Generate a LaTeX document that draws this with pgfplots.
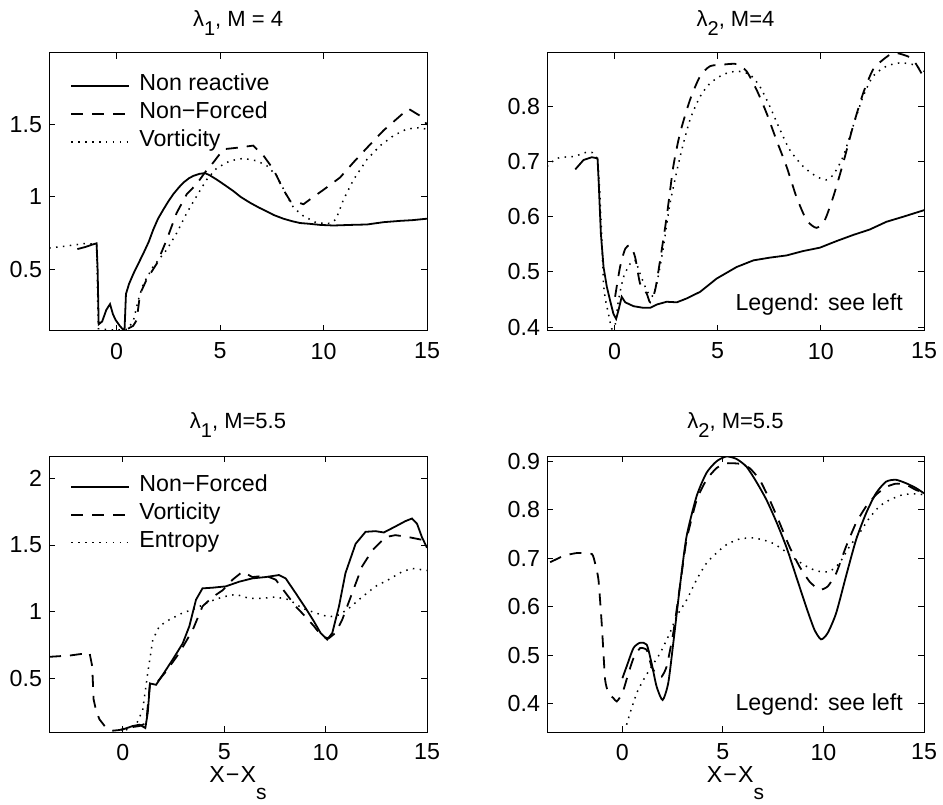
\documentclass[border=0pt]{standalone}
\usepackage{fontspec}
\setmainfont{Liberation Sans}
\usepackage{pgfplots}
\pgfplotsset{compat=1.18}
\newcommand{\fsz}{\fontsize{11.6}{13.5}\selectfont}
\pgfplotsset{
  every axis/.append style={
    scale only axis,
    axis line style={line width=0.5pt},
    tick style={line width=0.5pt, black},
    major tick length=3pt,
    tick align=inside,
    ticklabel style={font=\fsz},
    xticklabel style={yshift=-2.4pt},
    /pgf/number format/assume math mode=true,
    xtick={0,5,10,15},
    xmax=15,
    title style={at={(0.5,1)}, anchor=base, font=\fontsize{11}{13}\selectfont},
    legend cell align=left,
    legend image code/.code={\draw[#1] (0pt,0pt) -- (29pt,0pt); \path (33.5pt,0pt);},
    legend style={draw=none, fill=none, font=\fsz,
      inner sep=0pt, row sep=3pt,
      nodes={inner sep=0pt, text height=8pt, text depth=3pt}},
  },
  mysolid/.style={black, line width=0.9pt},
  mydash/.style={black, line width=0.9pt, dash pattern=on 6pt off 4.5pt},
  mydot/.style={black, line width=0.75pt, dash pattern=on 0.75pt off 2.7pt},
}
\newcommand{\xlab}{X\kern0.05em−\kern0.05emX\raisebox{-8.5pt}{\fontsize{10.5}{12}\selectfont s}}
\newcommand{\lsub}[1]{\raisebox{-4.5pt}{\fontsize{10}{12}\selectfont #1}}
\begin{document}
\begin{tikzpicture}
\path[use as bounding box] (0,0) rectangle (471.5pt,402pt);
% ---------------- Panel 1 ----------------
\begin{axis}[at={(24.5pt,236.5pt)}, anchor=south west, width=189pt, height=139pt,
  xmin=-3.27, ymin=0.074, ymax=1.995, ytick={0.5,1,1.5},
  title={λ\lsub{1}, M = 4}, title style={yshift=7pt},
  legend style={at={(0.056,0.923)}, anchor=north west}]
\addplot[mysolid] coordinates {(-1.9,0.64) (-1.5,0.655) (-1.2,0.67) (-0.97,0.68) (-0.92,0.5) (-0.87,0.12) (-0.7,0.14) (-0.5,0.22) (-0.32,0.26) (-0.18,0.19) (-0.05,0.15) (0.15,0.11) (0.3,0.085) (0.38,0.08) (0.45,0.33) (0.6,0.4) (0.81,0.47) (1.05,0.54) (1.29,0.61) (1.55,0.69) (1.77,0.775) (2.0,0.85) (2.26,0.914) (2.5,0.97) (2.74,1.02) (3.0,1.065) (3.23,1.10) (3.5,1.13) (3.71,1.146) (4.0,1.16) (4.27,1.165) (4.5,1.15) (4.84,1.12) (5.2,1.085) (5.65,1.04) (6.0,1.0) (6.45,0.96) (6.9,0.925) (7.26,0.90) (7.6,0.875) (8.06,0.85) (8.5,0.832) (8.87,0.82) (9.3,0.815) (9.84,0.807) (10.48,0.803) (11.29,0.807) (12.1,0.81) (12.9,0.826) (13.7,0.835) (14.3,0.84) (15,0.85)};
\addlegendentry{Non reactive}
\addplot[mydash] coordinates {(0.55,0.09) (0.8,0.11) (0.97,0.15) (1.13,0.33) (1.45,0.43) (1.94,0.54) (2.42,0.705) (2.9,0.89) (3.39,1.02) (3.87,1.09) (4.27,1.17) (4.68,1.24) (5.16,1.33) (5.8,1.34) (6.6,1.355) (7.1,1.285) (7.58,1.19) (8.06,1.05) (8.4,0.97) (8.7,0.965) (9.03,0.95) (9.35,0.984) (10.0,1.05) (10.8,1.135) (11.45,1.24) (12.1,1.34) (12.9,1.46) (13.7,1.56) (14.1,1.61) (14.68,1.56) (15,1.5)};
\addlegendentry{Non−Forced}
\addplot[mydot] coordinates {(-3.26,0.647) (-2.5,0.66) (-1.45,0.68) (-0.97,0.67) (-0.92,0.3) (-0.88,0.09) (-0.5,0.085) (0,0.08) (0.5,0.085) (0.8,0.14) (1.05,0.29) (1.29,0.40) (1.77,0.52) (2.42,0.636) (2.9,0.75) (3.39,0.89) (3.87,1.007) (4.35,1.12) (4.84,1.2) (5.48,1.25) (6.13,1.267) (6.77,1.25) (7.26,1.216) (7.74,1.146) (8.23,1.007) (8.55,0.926) (9.03,0.868) (9.68,0.82) (10.3,0.817) (10.6,0.845) (10.97,0.984) (11.45,1.12) (12.1,1.26) (12.74,1.355) (13.39,1.425) (14.03,1.47) (14.68,1.48) (15,1.466)};
\addlegendentry{Vorticity}
\end{axis}
% ---------------- Panel 2 ----------------
\begin{axis}[at={(273.5pt,236.5pt)}, anchor=south west, width=188.5pt, height=139pt,
  xmin=-3.27, ymin=0.393, ymax=0.897, ytick={0.4,0.5,0.6,0.7,0.8},
  title={λ\lsub{2}, M=4}, title style={yshift=7pt}]
\addplot[mysolid] coordinates {(-1.9,0.686) (-1.5,0.703) (-1.1,0.708) (-0.82,0.706) (-0.77,0.667) (-0.66,0.57) (-0.53,0.509) (-0.37,0.473) (-0.21,0.448) (-0.05,0.424) (0.08,0.415) (0.19,0.43) (0.35,0.455) (0.52,0.445) (0.92,0.438) (1.4,0.435) (1.73,0.435) (2.05,0.441) (2.53,0.446) (3.02,0.445) (3.5,0.452) (4.15,0.464) (4.95,0.488) (5.92,0.509) (6.73,0.521) (7.53,0.526) (8.34,0.530) (9.15,0.538) (9.95,0.544) (10.76,0.556) (11.56,0.567) (12.37,0.577) (13.18,0.591) (13.98,0.6) (15,0.612)};
\addplot[mydash, smooth, tension=0.4] coordinates {(0.03,0.455) (0.27,0.509) (0.52,0.542) (0.76,0.548) (1.0,0.527) (1.24,0.479) (1.56,0.461) (1.73,0.445) (1.97,0.467) (2.21,0.521) (2.53,0.6) (2.85,0.691) (3.18,0.752) (3.66,0.812) (4.15,0.855) (4.63,0.873) (5.27,0.876) (5.92,0.877) (6.4,0.864) (6.89,0.83) (7.37,0.788) (7.85,0.739) (8.34,0.691) (8.82,0.636) (9.31,0.594) (9.79,0.58) (10.19,0.594) (10.6,0.636) (11.08,0.697) (11.56,0.764) (12.05,0.824) (12.53,0.867) (13.02,0.885) (13.5,0.897) (13.98,0.894) (14.47,0.885) (15,0.852)};
\addplot[mydot, smooth, tension=0.4] coordinates {(-3.27,0.691) (-2.79,0.706) (-2.0,0.709) (-0.85,0.705) (-0.53,0.479) (-0.29,0.424) (-0.13,0.397) (0.03,0.403) (0.19,0.448) (0.44,0.491) (0.76,0.515) (1.0,0.521) (1.24,0.497) (1.56,0.467) (1.81,0.455) (2.05,0.479) (2.37,0.545) (2.69,0.624) (3.18,0.709) (3.66,0.776) (4.15,0.818) (4.63,0.842) (5.27,0.858) (5.92,0.864) (6.56,0.858) (7.05,0.836) (7.53,0.8) (8.02,0.758) (8.5,0.721) (9.15,0.691) (9.79,0.673) (10.27,0.667) (10.6,0.676) (11.08,0.709) (11.56,0.764) (12.05,0.818) (12.53,0.855) (13.18,0.873) (13.82,0.879) (14.47,0.876) (15,0.864)};
\node[font=\fsz, anchor=center] at (rel axis cs:0.722,0.096) {Legend: see left};
\end{axis}
% ---------------- Panel 3 ----------------
\begin{axis}[at={(24.5pt,36pt)}, anchor=south west, width=189pt, height=138pt,
  xmin=-3.64, ymin=0.095, ymax=2.17, ytick={0.5,1,1.5,2},
  title={λ\lsub{1}, M=5.5}, title style={yshift=8pt},
  xlabel={\xlab}, xlabel style={at={(axis description cs:0.5,0)}, anchor=base, yshift=-25pt, font=\fsz},
  legend style={at={(0.056,0.93)}, anchor=north west}]
\addplot[mysolid] coordinates {(-0.08,0.11) (0.49,0.14) (0.82,0.15) (1.11,0.125) (1.23,0.24) (1.34,0.46) (1.64,0.45) (1.97,0.525) (2.46,0.64) (2.95,0.76) (3.28,0.89) (3.61,1.09) (3.93,1.175) (4.43,1.18) (5.08,1.19) (5.74,1.225) (6.39,1.25) (7.05,1.26) (7.7,1.275) (8.03,1.25) (8.52,1.14) (9.02,1.025) (9.43,0.925) (9.75,0.84) (10.08,0.79) (10.33,0.84) (10.66,1.04) (10.98,1.29) (11.48,1.51) (11.97,1.6) (12.46,1.605) (12.87,1.595) (13.44,1.64) (13.93,1.68) (14.26,1.70) (14.51,1.66) (14.75,1.56) (15,1.48)};
\addlegendentry{Non−Forced}
\addplot[mydash] coordinates {(-3.64,0.66) (-2.62,0.67) (-1.64,0.69) (-1.51,0.59) (-1.44,0.34) (-1.31,0.25) (-1.15,0.19) (-0.82,0.125) (-0.49,0.105) (-0.16,0.11) (0.16,0.125) (0.82,0.14) (1.15,0.16) (1.34,0.46) (1.64,0.46) (2.13,0.55) (2.79,0.69) (3.44,0.86) (3.93,1.04) (4.43,1.11) (4.92,1.16) (5.41,1.24) (5.9,1.3) (6.39,1.26) (7.05,1.27) (7.54,1.24) (8.03,1.14) (8.52,1.04) (9.02,0.96) (9.43,0.89) (9.84,0.81) (10.16,0.80) (10.49,0.84) (10.82,0.94) (11.31,1.14) (11.8,1.34) (12.3,1.46) (12.95,1.56) (13.44,1.575) (14.1,1.56) (14.75,1.54) (15,1.5)};
\addlegendentry{Vorticity}
\addplot[mydot] coordinates {(0.16,0.11) (0.66,0.15) (0.98,0.26) (1.23,0.54) (1.48,0.79) (1.8,0.89) (2.3,0.94) (2.95,0.99) (3.61,1.025) (4.26,1.075) (4.92,1.11) (5.57,1.13) (6.23,1.10) (6.89,1.10) (7.54,1.11) (8.2,1.09) (8.85,1.025) (9.51,0.99) (10.16,0.96) (10.66,0.975) (11.15,1.025) (11.8,1.11) (12.46,1.19) (13.1,1.24) (13.77,1.3) (14.26,1.325) (15,1.31)};
\addlegendentry{Entropy}
\end{axis}
% ---------------- Panel 4 ----------------
\begin{axis}[at={(273.5pt,36pt)}, anchor=south west, width=188.5pt, height=138pt,
  xmin=-3.75, ymin=0.342, ymax=0.911, ytick={0.4,0.5,0.6,0.7,0.8,0.9},
  title={λ\lsub{2}, M=5.5}, title style={yshift=8pt},
  xlabel={\xlab}, xlabel style={at={(axis description cs:0.5,0)}, anchor=base, yshift=-25pt, font=\fsz}]
\addplot[mysolid, smooth, tension=0.4] coordinates {(0,0.453) (0.21,0.477) (0.55,0.515) (0.88,0.526) (1.21,0.522) (1.45,0.484) (1.7,0.436) (2.0,0.408) (2.28,0.443) (2.53,0.525) (2.86,0.642) (3.19,0.745) (3.69,0.828) (4.18,0.876) (4.68,0.9) (5.17,0.91) (5.67,0.905) (6.17,0.889) (6.66,0.858) (7.16,0.821) (7.65,0.776) (8.15,0.724) (8.64,0.663) (9.14,0.6) (9.55,0.553) (9.88,0.533) (10.21,0.546) (10.63,0.587) (11.12,0.663) (11.62,0.738) (12.12,0.793) (12.61,0.834) (13.11,0.858) (13.6,0.862) (14.1,0.855) (14.6,0.845) (15,0.834)};
\addplot[mydash, smooth, tension=0.3] coordinates {(-3.59,0.692) (-2.93,0.705) (-2.26,0.711) (-1.52,0.709) (-1.36,0.69) (-1.19,0.656) (-1.02,0.56) (-0.86,0.45) (-0.69,0.422) (-0.45,0.412) (-0.28,0.405) (0,0.422) (0.3,0.463) (0.55,0.494) (0.88,0.515) (1.21,0.511) (1.45,0.477) (1.7,0.46) (1.95,0.456) (2.2,0.477) (2.53,0.546) (2.86,0.642) (3.19,0.738) (3.69,0.82) (4.18,0.862) (4.68,0.886) (5.17,0.896) (5.83,0.895) (6.33,0.886) (6.83,0.862) (7.32,0.821) (7.82,0.773) (8.31,0.724) (8.81,0.683) (9.31,0.652) (9.8,0.635) (10.21,0.642) (10.63,0.669) (11.12,0.724) (11.62,0.773) (12.12,0.807) (12.61,0.831) (13.11,0.847) (13.6,0.854) (14.1,0.852) (14.6,0.841) (15,0.836)};
\addplot[mydot, smooth, tension=0.4] coordinates {(0.21,0.357) (0.38,0.381) (0.71,0.422) (1.04,0.449) (1.45,0.477) (1.87,0.504) (2.36,0.546) (2.69,0.58) (3.19,0.614) (3.69,0.656) (4.18,0.69) (4.68,0.711) (5.17,0.728) (5.83,0.74) (6.5,0.742) (7.0,0.738) (7.49,0.731) (7.98,0.718) (8.64,0.697) (9.31,0.68) (9.8,0.673) (10.3,0.673) (10.79,0.69) (11.29,0.724) (11.79,0.752) (12.28,0.783) (12.78,0.807) (13.27,0.82) (13.93,0.831) (14.6,0.833) (15,0.831)};
\node[font=\fsz, anchor=center] at (rel axis cs:0.722,0.099) {Legend: see left};
\end{axis}
\end{tikzpicture}
\end{document}
